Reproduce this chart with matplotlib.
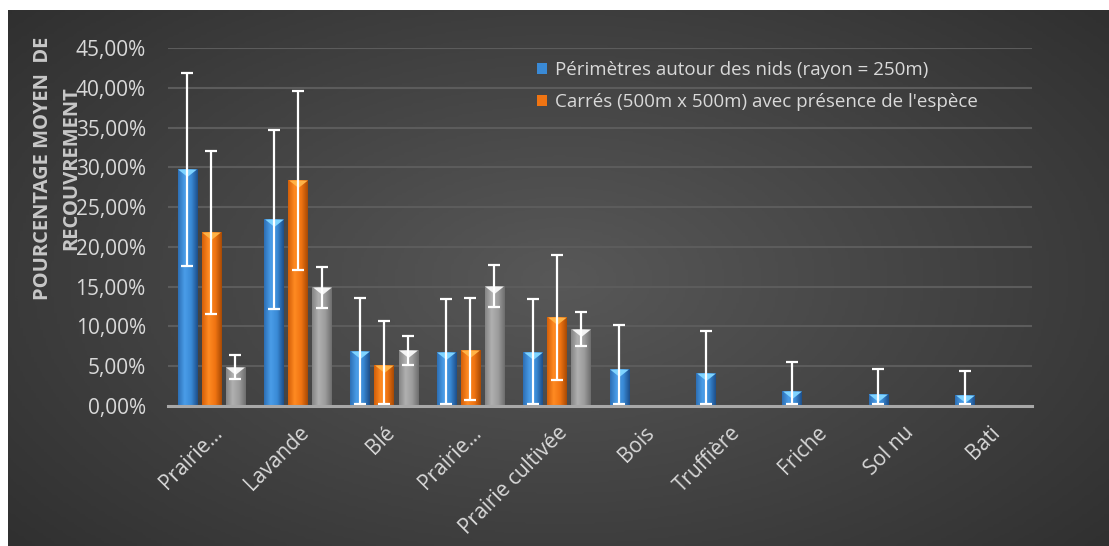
import numpy as np
import matplotlib

matplotlib.use("Agg")
import matplotlib.pyplot as plt
from matplotlib.colors import LinearSegmentedColormap
from matplotlib.ticker import FuncFormatter
from matplotlib.transforms import ScaledTranslation

plt.rcParams["font.family"] = ["Open Sans", "DejaVu Sans"]

categories = ["Prairie…", "Lavande", "Blé", "Prairie…", "Prairie cultivée",
              "Bois", "Truffière", "Friche", "Sol nu", "Bati"]

# % values; NaN = no bar
perimetres = [29.8, 23.5, 6.9, 6.75, 6.75, 4.6, 4.1, 1.9, 1.5, 1.35]
perimetres_lo = [12.2, 11.3, 6.65, 6.5, 6.45, 4.3, 3.8, 1.65, 1.25, 1.1]
perimetres_hi = [12.1, 11.2, 6.7, 6.65, 6.65, 5.6, 5.35, 3.6, 3.2, 3.05]

carres = [21.9, 28.4, 5.2, 7.1, 11.15, np.nan, np.nan, np.nan, np.nan, np.nan]
carres_lo = [10.3, 11.3, 4.95, 6.3, 7.85, 0, 0, 0, 0, 0]
carres_hi = [10.1, 11.2, 5.5, 6.5, 7.85, 0, 0, 0, 0, 0]

autre = [4.9, 14.9, 7.0, 15.1, 9.7, np.nan, np.nan, np.nan, np.nan, np.nan]
autre_err = [1.55, 2.6, 1.8, 2.6, 2.15, 0, 0, 0, 0, 0]

labels = ["Périmètres autour des nids (rayon = 250m)",
          "Carrés (500m x 500m) avec présence de l'espèce"]

W, H = 1109, 546
fig = plt.figure(figsize=(W / 100, H / 100), dpi=100, facecolor="white")

# dark radial background panel
bg = fig.add_axes([8 / W, 0, 1 - 8 / W, 536 / H], zorder=-10)
yy, xx = np.mgrid[0:200, 0:400]
r = np.sqrt(((xx - 200) / 330.0) ** 2 + ((yy - 100) / 190.0) ** 2)
bg.imshow(np.clip(r, 0, 1), cmap=LinearSegmentedColormap.from_list("bg", ["#585858", "#262626"]),
          aspect="auto", extent=[0, 1, 0, 1], vmin=0, vmax=1)
bg.axis("off")

ax = fig.add_axes([168 / W, 1 - 406 / H, (1032 - 168) / W, (406 - 48) / H])
ax.patch.set_alpha(0)

x = np.arange(len(categories))
step = 0.278
width = 0.22

series = [
    (perimetres, [perimetres_lo, perimetres_hi], ["#2d6fb5", "#4a9de8", "#3a8ad6", "#1d4f8a"], "#7fd4ff", labels[0]),
    (carres, [carres_lo, carres_hi], ["#d45f08", "#ff8a22", "#f07412", "#a84a05"], "#ffb347", labels[1]),
    (autre, [autre_err, autre_err], ["#858585", "#b0b0b0", "#9c9c9c", "#6e6e6e"], "#f4f4f4", None),
]

tri = [(-1, 0), (1, 0), (0, -0.8), (-1, 0)]
handles = []
for i, (vals, err, cols, top, lab) in enumerate(series):
    xs = x + (i - 1) * step
    vals = np.array(vals, dtype=float)
    bars = ax.bar(xs, vals, width, color=cols[2], zorder=2, label=lab)
    cmap = LinearSegmentedColormap.from_list(f"s{i}", cols)
    grad = np.linspace(0, 1, 64).reshape(1, -1)
    for rect in bars:
        if np.isnan(rect.get_height()):
            continue
        x0, w, h = rect.get_x(), rect.get_width(), rect.get_height()
        im = ax.imshow(grad, cmap=cmap, extent=[x0, x0 + w, 0, h], aspect="auto", zorder=2.1)
        im.set_clip_path(rect)
    ok = ~np.isnan(vals)
    ax.plot(xs[ok], vals[ok], ls="none", marker=tri, ms=13.5, mfc=top, mec="none", zorder=3)
    ax.errorbar(xs[ok], vals[ok], yerr=np.array(err)[:, ok], fmt="none", ecolor="white",
                elinewidth=1.6, capsize=4.5, capthick=1.6, zorder=4)
    if lab:
        handles.append(bars)

ax.set_xlim(-0.5, len(categories) - 0.5)
ax.set_ylim(0, 45)
ax.set_yticks(np.arange(0, 46, 5))
ax.yaxis.set_major_formatter(FuncFormatter(lambda v, p: f"{v:.2f}".replace(".", ",") + "%"))
ax.grid(axis="y", color="#5c5c5c", lw=1.5, zorder=0)
ax.set_axisbelow(True)
for s in ["top", "right", "left"]:
    ax.spines[s].set_visible(False)
ax.spines["bottom"].set_color("#a8a8a8")
ax.spines["bottom"].set_linewidth(2.2)
ax.spines["bottom"].set_zorder(5)
ax.tick_params(axis="both", length=0, labelsize=15, labelcolor="#d9d9d9")
ax.tick_params(axis="y", pad=16)
ax.set_xticks(x)
ax.set_xticklabels(categories, rotation=45, ha="right", va="center", rotation_mode="anchor")
ax.tick_params(axis="x", pad=17)
for t in ax.get_xticklabels():
    t.set_transform(t.get_transform() + ScaledTranslation(0.08, 0, fig.dpi_scale_trans))

fig.text(57 / W, 1 - 168 / H, "POURCENTAGE MOYEN  DE\nRECOUVREMENT", rotation=90,
         ha="center", va="center", multialignment="center", linespacing=1.55,
         fontsize=14.5, fontweight="bold", color="#c8c8c8")

leg = fig.legend(handles=handles, labels=labels, loc="upper left",
                 bbox_to_anchor=(537 / W, 1 - 61 / H), frameon=False, fontsize=13.5,
                 handlelength=0.55, handleheight=0.55, handletextpad=0.4,
                 labelspacing=0.75, borderpad=0, borderaxespad=0)
for t in leg.get_texts():
    t.set_color("#d9d9d9")

fig.savefig("out.png", dpi=100, facecolor="white")
